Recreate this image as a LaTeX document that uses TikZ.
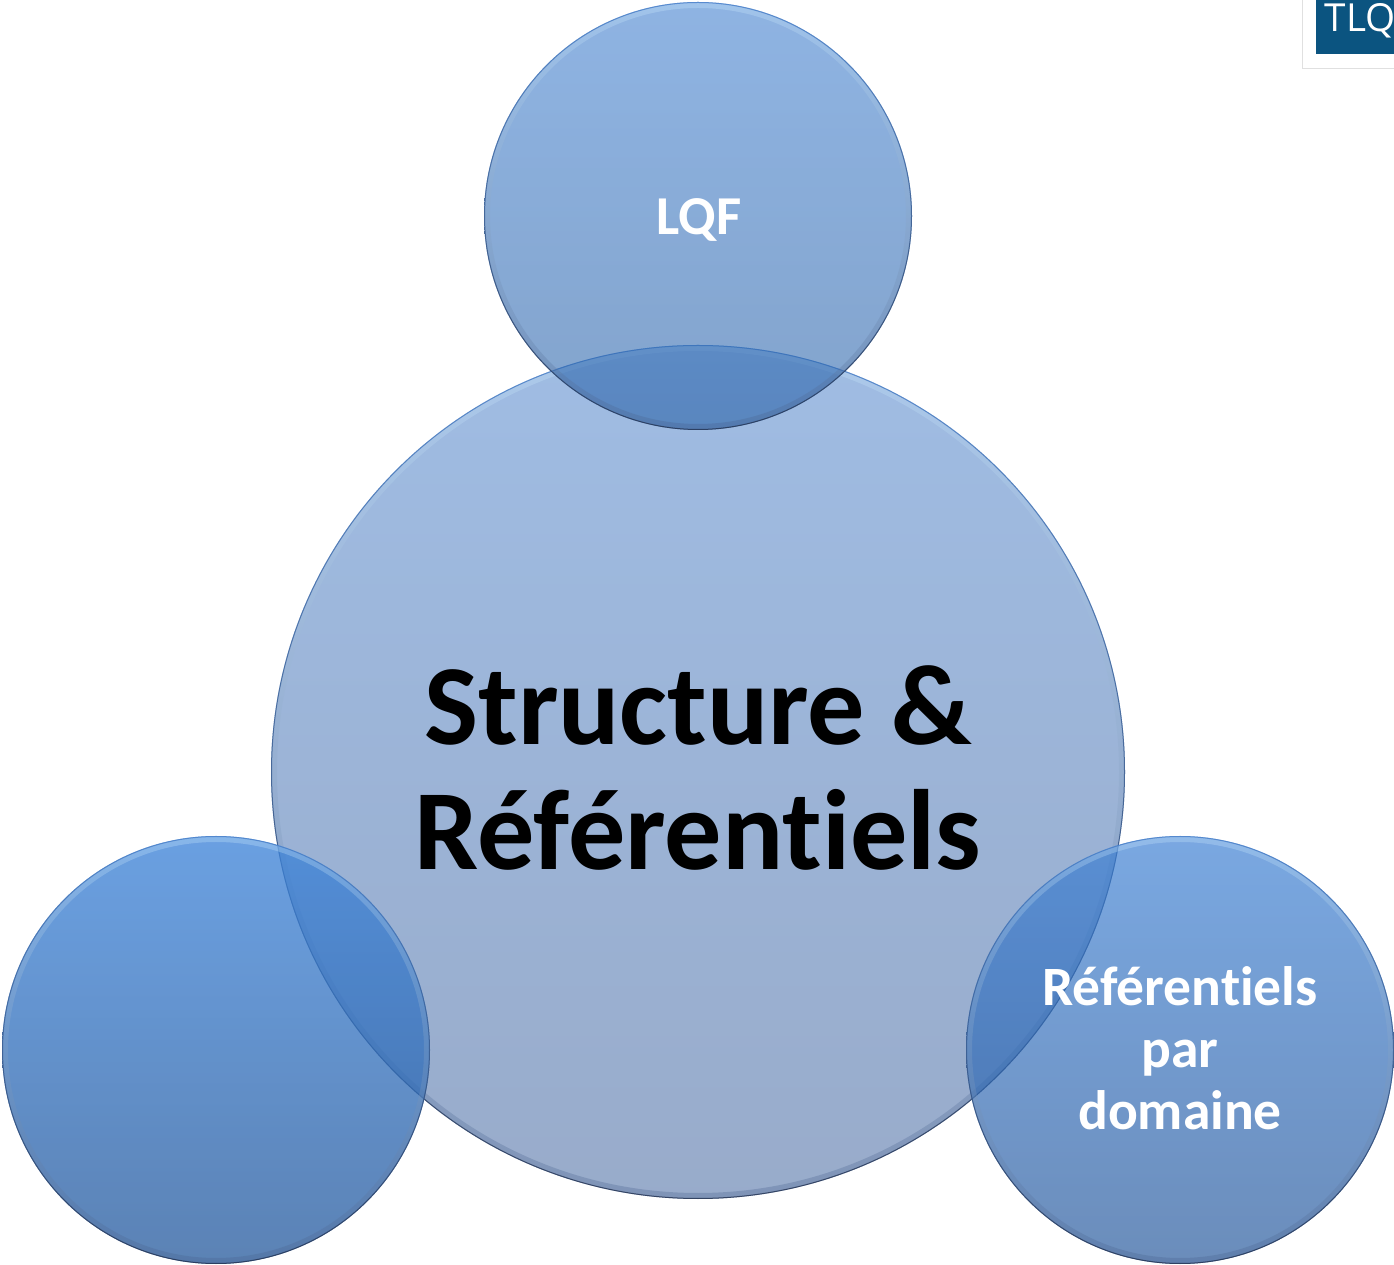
\documentclass[tikz,border=0pt]{standalone}
\usepackage{fontspec}
\setmainfont{Carlito}[RawFeature={-liga}]
\newfontfamily\logofont{Open Sans}
\usetikzlibrary{positioning}
\definecolor{bigtop}{RGB}{65,123,201}
\definecolor{bigbot}{RGB}{51,89,151}
\definecolor{lqftop}{RGB}{62,126,207}
\definecolor{lqfbot}{RGB}{40,97,167}
\definecolor{lefttop}{RGB}{62,132,217}
\definecolor{leftbot}{RGB}{42,93,159}
\definecolor{righttop}{RGB}{59,127,212}
\definecolor{rightbot}{RGB}{37,87,155}
\definecolor{logoblue}{RGB}{11,84,128}
\definecolor{rimtop}{RGB}{70,125,200}
\definecolor{rimmid}{RGB}{85,115,160}
\definecolor{rimbot}{RGB}{35,50,80}
\definecolor{glowtop}{RGB}{205,235,255}
\definecolor{glowmid}{RGB}{110,145,195}
\definecolor{glowbot}{RGB}{70,95,140}
\tikzset{
  disc/.style={circle,inner sep=0pt,draw=none},
  edgeglow/.style={even odd rule,top color=glowtop,middle color=glowmid,bottom color=glowbot,fill opacity=0.3},
  edgeline/.style={even odd rule,top color=rimtop,middle color=rimmid,bottom color=rimbot,fill opacity=0.8},
  whitelabel/.style={text=white,font=\bfseries\fontsize{15.8}{17.6}\selectfont,align=center},
}
\begin{document}
\begin{tikzpicture}
\useasboundingbox (0,0) rectangle (13.94,12.64);
\fill[white] (0,0) rectangle (13.94,12.64);

\node[disc,minimum size=8.54cm,top color=bigtop,bottom color=bigbot,fill opacity=0.5] (big) at (6.98,4.92) {};
\shade[edgeglow] (big.center) circle (4.27) (big.center) circle (4.21);
\shade[edgeline] (big.center) circle (4.27) (big.center) circle (4.26);

\node[disc,minimum size=4.28cm,top color=lqftop,bottom color=lqfbot,fill opacity=0.58] (lqf) at (6.98,10.48) {};
\shade[edgeglow] (lqf.center) circle (2.14) (lqf.center) circle (2.08);
\shade[edgeline] (lqf.center) circle (2.14) (lqf.center) circle (2.13);

\node[disc,minimum size=4.28cm,top color=lefttop,bottom color=leftbot,fill opacity=0.77] (left) at (2.16,2.14) {};
\shade[edgeglow] (left.center) circle (2.14) (left.center) circle (2.08);
\shade[edgeline] (left.center) circle (2.14) (left.center) circle (2.13);

\node[disc,minimum size=4.28cm,top color=righttop,bottom color=rightbot,fill opacity=0.68] (right) at (11.80,2.14) {};
\shade[edgeglow] (right.center) circle (2.14) (right.center) circle (2.08);
\shade[edgeline] (right.center) circle (2.14) (right.center) circle (2.13);

\node[font=\bfseries\fontsize{32.5}{35.4}\selectfont,align=center,text=black] (bigtext) at (6.98,4.96) {Structure \&\\Référentiels};
\node[whitelabel,font=\bfseries\fontsize{15.6}{17}\selectfont] (lqftext) at (6.99,10.44) {LQF};
\node[whitelabel] (righttext) at (11.80,2.155) {Référentiels\\par\\domaine};

% logo
\draw[black!12,very thin] (13.02,12.64) -- (13.02,11.96) -- (13.94,11.96);
\fill[logoblue] (13.16,12.10) rectangle (13.94,12.64);
\begin{scope}
\clip (13.16,12.10) rectangle (13.94,12.64);
\node[anchor=north west,inner sep=0pt,text=white,font=\logofont\fontsize{11}{13}\selectfont] (logo) at (13.24,12.615) {TLQ};
\end{scope}
\end{tikzpicture}
\end{document}
